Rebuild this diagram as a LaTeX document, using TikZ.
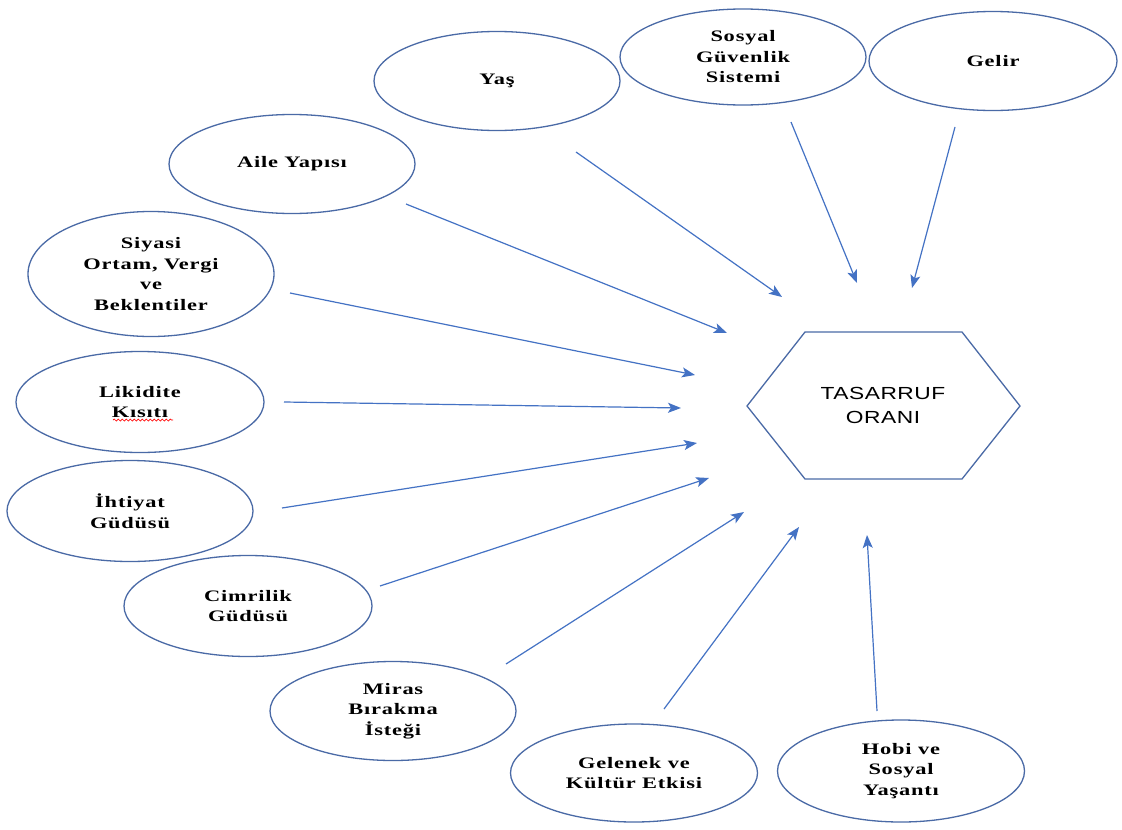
\documentclass[tikz,border=0pt]{standalone}
\usepackage{fontspec}
\newfontfamily\lbl[FakeStretch=1.4,LetterSpace=5]{Liberation Serif Bold}
\newfontfamily\hexfont[FakeStretch=1.3,LetterSpace=3]{Liberation Sans}
\usetikzlibrary{shapes.geometric,arrows.meta,decorations.pathmorphing}
\definecolor{ellc}{HTML}{4A6AA6}
\definecolor{arrc}{HTML}{4472C4}
\tikzset{
  ell/.style={draw=ellc, line width=1.3pt, ellipse, inner sep=0pt, align=center,
    minimum width=246pt, minimum height=99pt, font=\lbl\fontsize{16}{20.5}\selectfont},
  arr/.style={draw=arrc, line width=1.2pt, -{Stealth[length=13pt,width=10pt,inset=3pt]}},
}
\begin{document}
\begin{tikzpicture}[x=1pt,y=-1pt]
\useasboundingbox[fill=white] (0,0) rectangle (1122,830);
% ellipses
\node[ell] (yas) at (497,81) {Yaş};
\node[ell, minimum height=96pt] (sgs) at (743,57) {Sosyal\\Güvenlik\\Sistemi};
\node[ell, minimum width=248pt] (gelir) at (993,61) {Gelir};
\node[ell] (aile) at (292,164) {Aile Yapısı};
\node[ell, minimum height=125pt] (siyasi) at (151,274) {Siyasi\\Ortam, Vergi\\ve\\Beklentiler};
\node[ell, minimum width=248pt, minimum height=101pt] (likidite) at (140,402) {Likidite\\Kısıtı};
\node[ell, minimum height=101pt] (ihtiyat) at (130,511) {İhtiyat\\Güdüsü};
\node[ell, minimum width=248pt, minimum height=101pt] (cimrilik) at (248,606) {Cimrilik\\Güdüsü};
\node[ell] (miras) at (393,711) {Miras\\Bırakma\\İsteği};
\node[ell, minimum width=247pt, minimum height=98pt] (gelenek) at (634,773) {Gelenek ve\\Kültür Etkisi};
\node[ell, minimum width=247pt, minimum height=102pt] (hobi) at (901,771) {Hobi ve\\Sosyal\\Yaşantı};
% spell-check underline
\coordinate (ul1) at (113,420);
\coordinate (ul2) at (173,420);
\draw[red, line width=0.7pt, decorate, decoration={snake, amplitude=1pt, segment length=4pt}] (ul1) -- (ul2);
% hexagon
\coordinate (h1) at (747,406);
\coordinate (h2) at (805,332);
\coordinate (h3) at (962,332);
\coordinate (h4) at (1020,406);
\coordinate (h5) at (962,479);
\coordinate (h6) at (805,479);
\draw[ellc, line width=1.3pt, line join=miter] (h1) -- (h2) -- (h3) -- (h4) -- (h5) -- (h6) -- cycle;
\node[align=center, font=\hexfont\fontsize{17.5}{24}\selectfont] (hex) at (883,405) {TASARRUF\\ORANI};
% arrow endpoints
\coordinate (s1) at (576,152);  \coordinate (t1) at (782,297);
\coordinate (s2) at (791,122);  \coordinate (t2) at (857,283);
\coordinate (s3) at (955,127);  \coordinate (t3) at (912,288);
\coordinate (s4) at (406,204);  \coordinate (t4) at (727,333);
\coordinate (s5) at (290,293);  \coordinate (t5) at (695,375);
\coordinate (s6) at (284,402);  \coordinate (t6) at (681,408);
\coordinate (s7) at (282,508);  \coordinate (t7) at (697,443);
\coordinate (s8) at (380,586);  \coordinate (t8) at (709,478);
\coordinate (s9) at (506,664);  \coordinate (t9) at (744,512);
\coordinate (s10) at (664,709); \coordinate (t10) at (799,527);
\coordinate (s11) at (877,711); \coordinate (t11) at (867,535);
\foreach \i in {1,...,11} { \draw[arr] (s\i) -- (t\i); }
\end{tikzpicture}
\end{document}
